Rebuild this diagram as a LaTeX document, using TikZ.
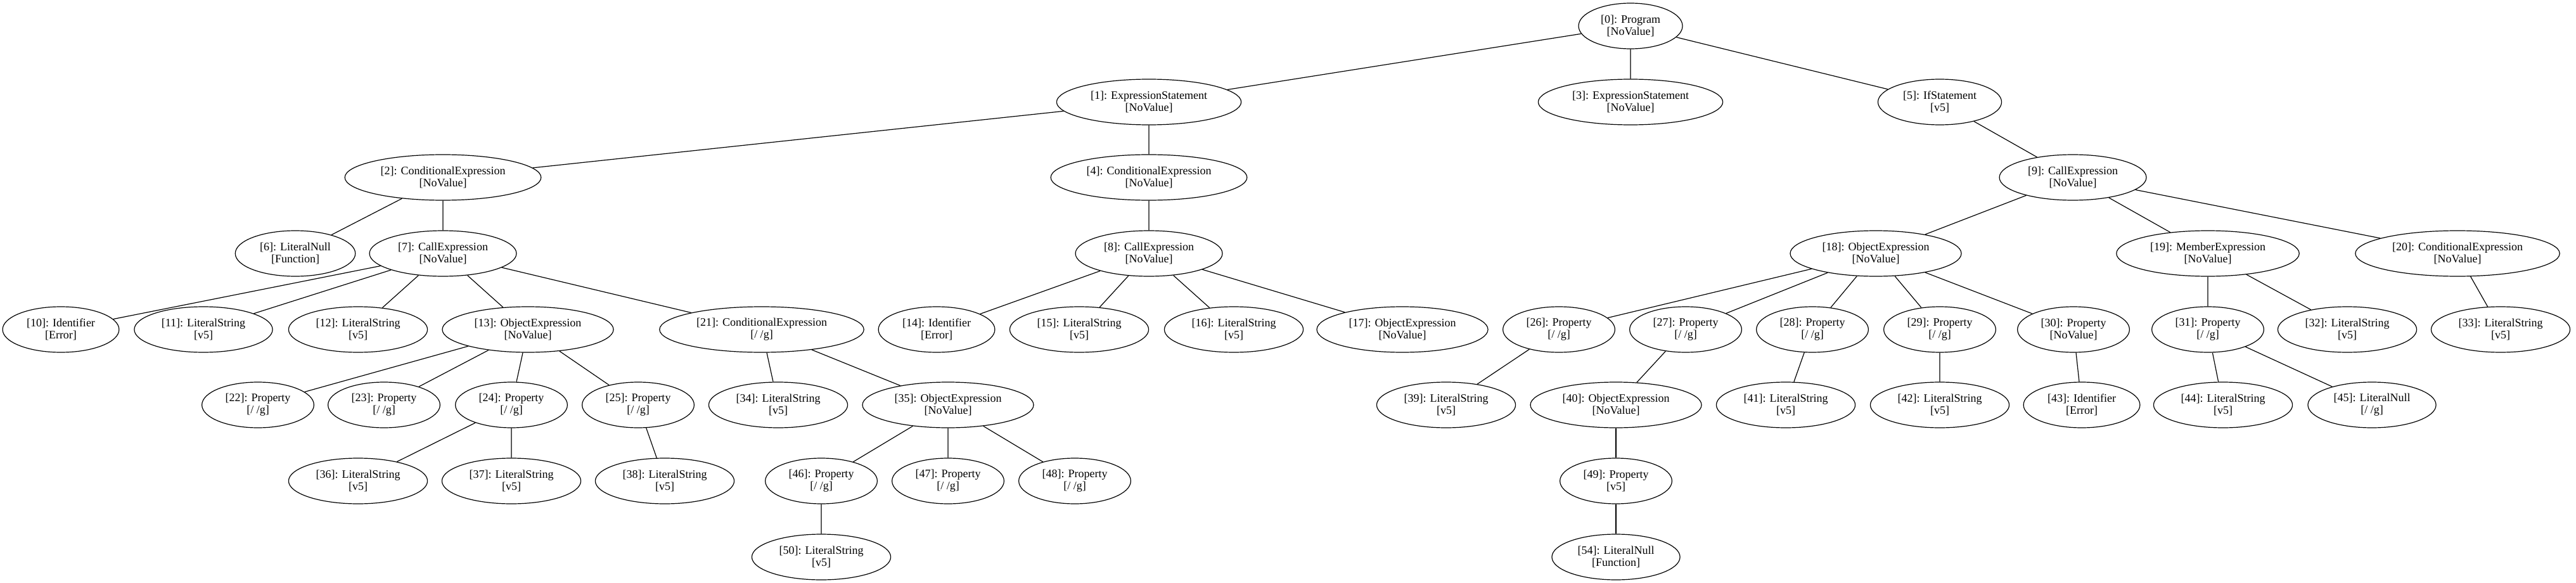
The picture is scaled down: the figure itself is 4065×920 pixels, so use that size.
\documentclass[tikz,border=0pt]{standalone}
\usepackage{fontspec}
\setmainfont{Liberation Serif}
\usetikzlibrary{shapes.geometric}

\tikzset{
  astbox/.style = {draw, ellipse, line width=0.6pt, align=center,
    inner xsep=5.5pt, inner ysep=2pt, minimum height=36pt,
    font=\fontsize{9}{9.6}\selectfont},
  astedge/.style = {line width=0.6pt}
}

\begin{document}
\begin{tikzpicture}[x=0.5pt, y=-0.5pt]
  \useasboundingbox (0,0) rectangle (4065,920);

  % top levels
  \node[astbox] (n0) at (2573,41) {[0]: Program\\{}[NoValue]};
  \node[astbox] (n1) at (1813,161) {[1]: ExpressionStatement\\{}[NoValue]};
  \node[astbox] (n3) at (2573,161) {[3]: ExpressionStatement\\{}[NoValue]};
  \node[astbox] (n5) at (3061,161) {[5]: IfStatement\\{}[v5]};
  \node[astbox] (n2) at (699,280) {[2]: ConditionalExpression\\{}[NoValue]};
  \node[astbox] (n4) at (1813,280) {[4]: ConditionalExpression\\{}[NoValue]};
  \node[astbox] (n9) at (3271,280) {[9]: CallExpression\\{}[NoValue]};
  \node[astbox] (n6) at (466,400) {[6]: LiteralNull\\{}[Function]};
  \node[astbox] (n7) at (699,400) {[7]: CallExpression\\{}[NoValue]};
  \node[astbox] (n8) at (1813,400) {[8]: CallExpression\\{}[NoValue]};
  \node[astbox] (n18) at (2960,400) {[18]: ObjectExpression\\{}[NoValue]};
  \node[astbox] (n19) at (3484,400) {[19]: MemberExpression\\{}[NoValue]};
  \node[astbox] (n20) at (3878,400) {[20]: ConditionalExpression\\{}[NoValue]};

  % fourth row
  \node[astbox] (n10) at (96,520) {[10]: Identifier\\{}[Error]};
  \node[astbox] (n11) at (321,520) {[11]: LiteralString\\{}[v5]};
  \node[astbox] (n12) at (565,520) {[12]: LiteralString\\{}[v5]};
  \node[astbox] (n13) at (833,520) {[13]: ObjectExpression\\{}[NoValue]};
  \node[astbox] (n21) at (1202,520) {[21]: ConditionalExpression\\{}[/ /g]};
  \node[astbox] (n14) at (1478,520) {[14]: Identifier\\{}[Error]};
  \node[astbox] (n15) at (1703,520) {[15]: LiteralString\\{}[v5]};
  \node[astbox] (n16) at (1947,520) {[16]: LiteralString\\{}[v5]};
  \node[astbox] (n17) at (2213,520) {[17]: ObjectExpression\\{}[NoValue]};
  \node[astbox] (n26) at (2460,520) {[26]: Property\\{}[/ /g]};
  \node[astbox] (n27) at (2660,520) {[27]: Property\\{}[/ /g]};
  \node[astbox] (n28) at (2860,520) {[28]: Property\\{}[/ /g]};
  \node[astbox] (n29) at (3061,520) {[29]: Property\\{}[/ /g]};
  \node[astbox] (n30) at (3272,520) {[30]: Property\\{}[NoValue]};
  \node[astbox] (n31) at (3484,520) {[31]: Property\\{}[/ /g]};
  \node[astbox] (n32) at (3704,520) {[32]: LiteralString\\{}[v5]};
  \node[astbox] (n33) at (3946,520) {[33]: LiteralString\\{}[v5]};

  % fifth row
  \node[astbox] (n22) at (407,639) {[22]: Property\\{}[/ /g]};
  \node[astbox] (n23) at (606,639) {[23]: Property\\{}[/ /g]};
  \node[astbox] (n24) at (807,639) {[24]: Property\\{}[/ /g]};
  \node[astbox] (n25) at (1007,639) {[25]: Property\\{}[/ /g]};
  \node[astbox] (n34) at (1228,639) {[34]: LiteralString\\{}[v5]};
  \node[astbox] (n35) at (1496,639) {[35]: ObjectExpression\\{}[NoValue]};
  \node[astbox] (n39) at (2282,639) {[39]: LiteralString\\{}[v5]};
  \node[astbox] (n40) at (2550,639) {[40]: ObjectExpression\\{}[NoValue]};
  \node[astbox] (n41) at (2818,639) {[41]: LiteralString\\{}[v5]};
  \node[astbox] (n42) at (3061,639) {[42]: LiteralString\\{}[v5]};
  \node[astbox] (n43) at (3285,639) {[43]: Identifier\\{}[Error]};
  \node[astbox] (n44) at (3508,639) {[44]: LiteralString\\{}[v5]};
  \node[astbox] (n45) at (3743,639) {[45]: LiteralNull\\{}[/ /g]};

  % lowest rows
  \node[astbox] (n36) at (565,759) {[36]: LiteralString\\{}[v5]};
  \node[astbox] (n37) at (807,759) {[37]: LiteralString\\{}[v5]};
  \node[astbox] (n38) at (1049,759) {[38]: LiteralString\\{}[v5]};
  \node[astbox] (n46) at (1296,759) {[46]: Property\\{}[/ /g]};
  \node[astbox] (n47) at (1496,759) {[47]: Property\\{}[/ /g]};
  \node[astbox] (n48) at (1696,759) {[48]: Property\\{}[/ /g]};
  \node[astbox] (n49) at (2550,759) {[49]: Property\\{}[v5]};
  \node[astbox] (n50) at (1296,879) {[50]: LiteralString\\{}[v5]};
  \node[astbox] (n54) at (2550,879) {[54]: LiteralNull\\{}[Function]};

  % edges
  \draw[astedge] (n0) -- (n1) (n0) -- (n3) (n0) -- (n5);
  \draw[astedge] (n1) -- (n2) (n1) -- (n4) (n4) -- (n8) (n5) -- (n9);
  \draw[astedge] (n2) -- (n6) (n2) -- (n7);
  \draw[astedge] (n7) -- (n10) (n7) -- (n11) (n7) -- (n12) (n7) -- (n13) (n7) -- (n21);
  \draw[astedge] (n8) -- (n14) (n8) -- (n15) (n8) -- (n16) (n8) -- (n17);
  \draw[astedge] (n9) -- (n18) (n9) -- (n19) (n9) -- (n20);
  \draw[astedge] (n13) -- (n22) (n13) -- (n23) (n13) -- (n24) (n13) -- (n25);
  \draw[astedge] (n21) -- (n34) (n21) -- (n35);
  \draw[astedge] (n24) -- (n36) (n24) -- (n37) (n25) -- (n38);
  \draw[astedge] (n35) -- (n46) (n35) -- (n47) (n35) -- (n48) (n46) -- (n50);
  \draw[astedge] (n18) -- (n26) (n18) -- (n27) (n18) -- (n28) (n18) -- (n29) (n18) -- (n30);
  \draw[astedge] (n19) -- (n31) (n19) -- (n32) (n20) -- (n33);
  \draw[astedge] (n26) -- (n39) (n27) -- (n40) (n28) -- (n41) (n29) -- (n42) (n30) -- (n43);
  \draw[astedge] (n40) -- (n49) (n49) -- (n54);
  \draw[astedge] (n31) -- (n44) (n31) -- (n45);
\end{tikzpicture}
\end{document}
